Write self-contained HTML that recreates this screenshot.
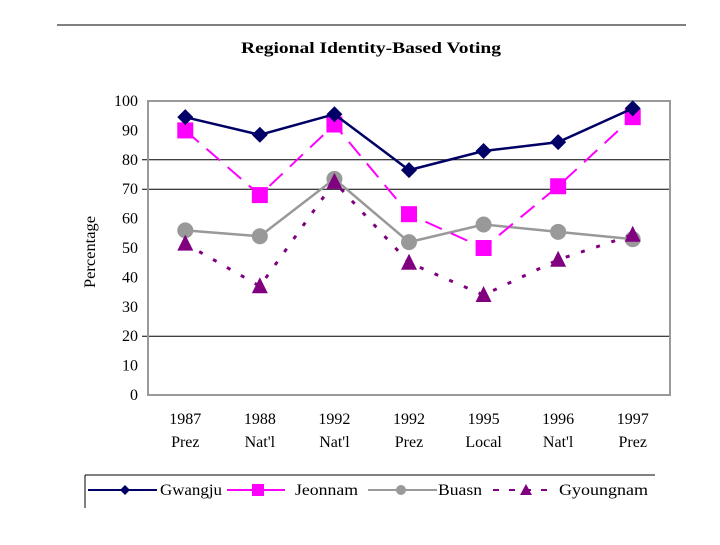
<!DOCTYPE html>
<html><head><meta charset="utf-8"><style>
body{margin:0;background:#fff;font-family:"Liberation Serif",serif}
</style></head><body>
<svg width="720" height="540" xmlns="http://www.w3.org/2000/svg" font-family="Liberation Serif, serif">
<line x1="57" y1="25" x2="686" y2="25" stroke="#000" stroke-width="1"/>
<text x="241" y="53" textLength="260" lengthAdjust="spacingAndGlyphs" font-size="16" font-weight="bold">Regional Identity-Based Voting</text>
<text transform="translate(95,252) rotate(-90)" text-anchor="middle" font-size="16" textLength="72" lengthAdjust="spacingAndGlyphs">Percentage</text>
<g id="grid"></g>
<rect x="148" y="101" width="522" height="294" fill="none" stroke="#999" stroke-width="2"/>
<g id="ticks"></g>
<g id="series"></g>
<g>
<line x1="85" y1="475" x2="655" y2="475" stroke="#000"/>
<line x1="85" y1="475" x2="85" y2="508" stroke="#000"/>
<g>
<line x1="88" y1="490" x2="157" y2="490" stroke="#000066" stroke-width="2"/>
<polygon points="125,485 130,490 125,495 120,490" fill="#000066"/>
<text x="160" y="495" font-size="16" textLength="62" lengthAdjust="spacingAndGlyphs">Gwangju</text></g>
<g>
<line x1="227" y1="490" x2="285" y2="490" stroke="#ff00ff" stroke-width="2"/>
<rect x="252" y="484" width="12" height="12" fill="#ff00ff"/>
<text x="295" y="495" font-size="16" textLength="63" lengthAdjust="spacingAndGlyphs">Jeonnam</text></g>
<g>
<line x1="368" y1="490" x2="437" y2="490" stroke="#999" stroke-width="2"/>
<circle cx="401" cy="490" r="5" fill="#999"/>
<text x="438" y="495" font-size="16" textLength="44" lengthAdjust="spacingAndGlyphs">Buasn</text></g>
<g>
<line x1="493" y1="490" x2="557" y2="490" stroke="#800080" stroke-width="2" stroke-dasharray="6,10"/>
<polygon points="526,484 532,495 520,495" fill="#800080"/>
<text x="559" y="495" font-size="16" textLength="89" lengthAdjust="spacingAndGlyphs">Gyoungnam</text></g>
</g>
</svg>
<script>
const categoriesYear=["1987","1988","1992","1992","1995","1996","1997"];
const categoriesType=["Prez","Nat'l","Nat'l","Prez","Local","Nat'l","Prez"];
const yTicks=[0,10,20,30,40,50,60,70,80,90,100];
const gridValues=[20,70,80];
const gwangju=[94.5,88.5,95.5,76.5,83,86,97.5];
const jeonnam=[90,68,92,61.5,50,71,94.5];
const buasn=[56,54,73.5,52,58,55.5,53];
const gyoungnam=[51.5,37,72.5,45,34,46,54.5];

const NS="http://www.w3.org/2000/svg";
const X0=148,X1=670,Y0=395,Y1=101;
const bw=(X1-X0)/categoriesYear.length;
const xs=i=>X0+bw*(i+0.5);
const ys=v=>Y0-(v/100)*(Y0-Y1);
function mk(tag,attrs,parent){const e=document.createElementNS(NS,tag);for(const k in attrs)e.setAttribute(k,attrs[k]);parent.appendChild(e);return e;}
const grid=document.getElementById('grid'),ticks=document.getElementById('ticks'),ser=document.getElementById('series');
gridValues.forEach(v=>{const l=mk('line',{x1:X0-6,x2:X1,y1:ys(v),y2:ys(v),stroke:'#000','stroke-width':1},grid);

});
yTicks.forEach(v=>{const t=mk('text',{x:X0-10,y:ys(v)+5,'text-anchor':'end','font-size':16},ticks);t.textContent=v;

});
categoriesYear.forEach((c,i)=>{const t=mk('text',{x:xs(i),y:424,'text-anchor':'middle','font-size':16},ticks);t.textContent=c;


const t2=mk('text',{x:xs(i),y:447,'text-anchor':'middle','font-size':16},ticks);t2.textContent=categoriesType[i];

});
function series(data,color,dash,width,marker,name){
const g=mk('g',{},ser);


mk('polyline',{points:data.map((v,i)=>xs(i)+','+ys(v)).join(' '),fill:'none',stroke:color,'stroke-width':width,'stroke-dasharray':dash},g);
data.forEach((v,i)=>{const x=xs(i),y=ys(v);let m;
if(marker==='d')m=mk('polygon',{points:`${x},${y-8} ${x+8},${y} ${x},${y+8} ${x-8},${y}`,fill:color},g);
else if(marker==='s')m=mk('rect',{x:x-8,y:y-8,width:16,height:16,fill:color},g);
else if(marker==='c')m=mk('circle',{cx:x,cy:y,r:8,fill:color},g);
else m=mk('polygon',{points:`${x},${y-9} ${x+8},${y+7} ${x-8},${y+7}`,fill:color},g);

});}
series(buasn,'#999999','none',2.5,'c','buasn');
series(gyoungnam,'#800080','4,12',3,'t','gyoungnam');
series(jeonnam,'#ff00ff','18,10',2,'s','jeonnam');
series(gwangju,'#000066','none',2.5,'d','gwangju');
</script>
</body></html>
